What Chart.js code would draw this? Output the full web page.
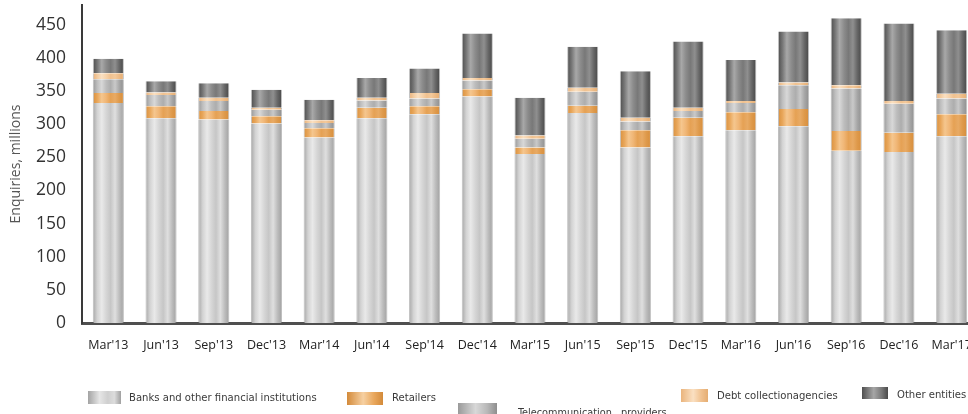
<!DOCTYPE html>
<html>
<head>
<meta charset="utf-8">
<script src="https://cdn.jsdelivr.net/npm/chart.js@4/dist/chart.umd.min.js"></script>
<style>
  html, body { margin: 0; padding: 0; background: #fff; overflow: hidden; width: 968px; height: 414px; }
  #wrap { position: absolute; left: 0; top: 0; width: 980px; height: 414px; }
  .lg-box { position: absolute; height: 13px; box-sizing: border-box; }
  .lg-text { position: absolute; font-family: "Liberation Sans Narrow", "DejaVu Sans Condensed", "Open Sans", sans-serif;
             font-size: 11.2px; color: #3a3a3a; white-space: pre; line-height: 14px; }
</style>
</head>
<body>
<div id="wrap"><canvas id="chart"></canvas></div>

<div class="lg-box" style="left:88px;top:391px;width:33px;background:linear-gradient(90deg,#a3a3a3,#e6e6e6 35%,#cfcfcf 60%,#dcdcdc 80%,#a0a0a0);"></div>
<div class="lg-text" style="left:129px;top:391px;">Banks and other financial institutions</div>

<div class="lg-box" style="left:347px;top:392px;width:36px;background:linear-gradient(90deg,#d38a3a,#f6d0a2 45%,#e9a75c 75%,#d38a3a);"></div>
<div class="lg-text" style="left:392px;top:391px;">Retailers</div>

<div class="lg-box" style="left:458px;top:403px;width:39px;height:12px;background:linear-gradient(90deg,#9a9a9a,#d8d8d8 45%,#b8b8b8 75%,#8e8e8e);"></div>
<div class="lg-text" style="left:518px;top:406px;font-size:10.8px;">Telecommunication   providers</div>

<div class="lg-box" style="left:681px;top:389px;width:27px;background:linear-gradient(90deg,#eab47c,#fae0c2 45%,#f0c18f 75%,#e5ad72);"></div>
<div class="lg-text" style="left:717px;top:389px;">Debt collectionagencies</div>

<div class="lg-box" style="left:862px;top:387px;width:26px;height:12px;background:linear-gradient(90deg,#4f4f4f,#a6a6a6 45%,#7a7a7a 75%,#4a4a4a);"></div>
<div class="lg-text" style="left:897px;top:388px;">Other entities</div>

<script>
// Quarterly credit bureau enquiries, millions, by type of enquirer
const quarters = ["Mar'13","Jun'13","Sep'13","Dec'13","Mar'14","Jun'14","Sep'14","Dec'14",
                  "Mar'15","Jun'15","Sep'15","Dec'15","Mar'16","Jun'16","Sep'16","Dec'16","Mar'17"];

const banks    = [332, 309, 307, 301, 280, 309, 315, 342, 255, 317, 265, 282, 291, 297, 260, 258, 282];
const retailers = [15, 18, 13, 11, 14, 16, 12, 11, 10, 11, 26, 28, 27, 26, 30, 29, 33];
const telecom  = [21, 17, 15, 10, 8, 11, 12, 13, 13, 21, 13, 10, 14, 36, 64, 44, 24];
const debtCollection = [9, 4, 5, 3, 4, 4, 8, 4, 5, 6, 6, 5, 3, 4, 5, 4, 7];
const otherEntities = [22, 17, 22, 27, 31, 30, 37, 67, 57, 62, 70, 100, 62, 77, 101, 117, 96];

const yTicks = [0, 50, 100, 150, 200, 250, 300, 350, 400, 450];

const BAR_PCT = 0.59;

// Cylinder-like shading across each bar segment
function shaded(colors, fallback) {
  return (context) => {
    if (context.type !== 'data') return fallback;
    const chart = context.chart;
    const xs = chart.scales.x;
    if (!xs || !xs.width) return fallback;
    const cx = xs.getPixelForValue(context.dataIndex);
    const w = xs.width / quarters.length * BAR_PCT;
    const g = chart.ctx.createLinearGradient(cx - w / 2, 0, cx + w / 2, 0);
    colors.forEach((c, i) => g.addColorStop(i / (colors.length - 1), c));
    return g;
  };
}

const palette = {
  banks:   ['#a6a6a6', '#d3d3d3', '#e9e9e9', '#d6d6d6', '#c6c6c6', '#dfdfdf', '#bcbcbc', '#a0a0a0'],
  retail:  ['#d8903e', '#e8a65a', '#f5c68e', '#f0b676', '#e5a154', '#e8aa64', '#de994a', '#d68d3c'],
  telecom: ['#989898', '#bebebe', '#d8d8d8', '#bdbdbd', '#adadad', '#c9c9c9', '#a6a6a6', '#8e8e8e'],
  debt:    ['#e8b07a', '#f3cb9f', '#fae0c2', '#f6d2aa', '#f0c18f', '#f3c99b', '#ecb983', '#e5ad72'],
  other:   ['#4c4c4c', '#767676', '#a8a8a8', '#8c8c8c', '#787878', '#8f8f8f', '#666666', '#464646']
};

function series(label, data, colors, fallback) {
  return {
    label, data,
    backgroundColor: shaded(colors, fallback),
    borderColor: 'rgba(140,140,140,0.55)',
    borderWidth: { left: 1, right: 1, top: 0, bottom: 0 },
    borderSkipped: false,
    categoryPercentage: 1,
    barPercentage: BAR_PCT
  };
}

new Chart(document.getElementById('chart'), {
  type: 'bar',
  data: {
    labels: quarters,
    datasets: [
      series('Banks and other financial institutions', banks, palette.banks, '#d0d0d0'),
      series('Retailers', retailers, palette.retail, '#e6a458'),
      series('Telecommunication providers', telecom, palette.telecom, '#bdbdbd'),
      series('Debt collection agencies', debtCollection, palette.debt, '#f3cb9f'),
      series('Other entities', otherEntities, palette.other, '#7a7a7a')
    ]
  },
  options: {
    responsive: true,
    maintainAspectRatio: false,
    animation: false,
    events: [],
    layout: { padding: { top: 5, right: 2, left: 0, bottom: 0 } },
    plugins: { legend: { display: false }, tooltip: { enabled: false } },
    scales: {
      x: {
        stacked: true,
        grid: { display: false, drawTicks: false },
        border: { display: true, color: '#4f4f4f', width: 3 },
        ticks: {
          color: '#222',
          font: { family: '"Open Sans", sans-serif', size: 12.5 },
          padding: 15,
          maxRotation: 0,
          autoSkip: false
        },
        afterFit: (s) => { s.height = 91; s.paddingLeft = 0; s.paddingRight = 0; }
      },
      y: {
        stacked: true,
        min: 0,
        max: 480,
        grid: { display: false, drawTicks: false },
        border: { display: true, color: '#3a3a3a', width: 2 },
        afterBuildTicks: (s) => { s.ticks = yTicks.map(v => ({ value: v })); },
        ticks: {
          color: '#333',
          font: { family: '"Open Sans", sans-serif', size: 17.5 },
          padding: 16
        },
        title: {
          display: true,
          text: 'Enquiries, millions',
          color: '#555',
          font: { family: '"Open Sans", sans-serif', size: 14 },
          padding: { top: 8, bottom: 4 }
        },
        afterFit: (s) => { s.width = 82; s.paddingTop = 0; s.paddingBottom = 0; }
      }
    }
  }
});
</script>
</body>
</html>
